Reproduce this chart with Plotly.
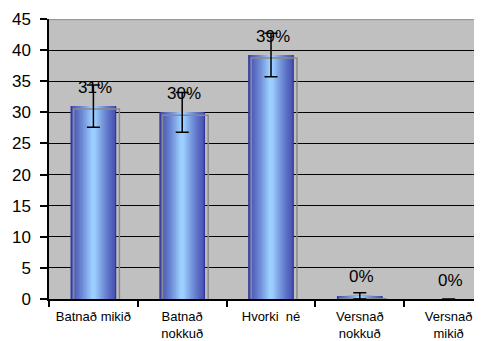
import plotly.graph_objects as go

categories = ["Batnað mikið", "Batnað nokkuð", "Hvorki  né", "Versnað nokkuð", "Versnað mikið"]
tick_labels = ["Batnað mikið", "Batnað<br>nokkuð", "Hvorki\u00a0\u00a0né", "Versnað<br>nokkuð", "Versnað<br>mikið"]
values = [31.0, 30.0, 39.2, 0.5, 0.0]
errors = [3.4, 3.2, 3.5, 0.5, None]
value_labels = ["31%", "30%", "39%", "0%", "0%"]

FONT = "Liberation Sans, Arial, sans-serif"

fig = go.Figure()

# gradient bars built from overlaid layers
dark = (0x34, 0x36, 0x9E)
mid = (0x4C, 0x58, 0xB6)
light = (0x9C, 0xCE, 0xFF)
N = 16
full_w = 0.515
for i in range(N):
    t = i / (N - 1)
    w = full_w * (1 - 0.9 * t) if i > 0 else full_w
    if i == 0:
        c = dark
    else:
        tt = ((i - 1) / (N - 2)) ** 1.2
        c = tuple(int(mid[k] + (light[k] - mid[k]) * tt) for k in range(3))
    fig.add_trace(go.Bar(
        x=categories, y=values, width=w,
        marker=dict(color="rgb(%d,%d,%d)" % c, line=dict(width=0)),
        hoverinfo="skip", showlegend=False,
    ))

# gray shadow outline, shifted right and down
fig.add_trace(go.Bar(
    x=categories, y=values, base=-0.45, width=full_w, offset=-full_w / 2 + 0.035,
    marker=dict(color="rgba(0,0,0,0)", line=dict(color="#8a8a8a", width=1.5)),
    hoverinfo="skip", showlegend=False,
))

# error bars on top
fig.add_trace(go.Bar(
    x=categories, y=values, width=full_w,
    marker=dict(color="rgba(0,0,0,0)", line=dict(width=0)),
    error_y=dict(type="data", array=errors, visible=True, color="black", thickness=1.5, width=6.5),
    showlegend=False,
))

for c, v, lab in zip(categories, values, value_labels):
    fig.add_annotation(x=c, y=v, text=lab, showarrow=False, yshift=19, xshift=2,
                       font=dict(family=FONT, size=17, color="black"))

fig.add_shape(type="line", xref="paper", yref="y", x0=0, x1=1, y0=45, y1=45,
              line=dict(color="#999999", width=2.5))

# page body has an 8px margin, so the figure is drawn 8px smaller
fig.update_layout(
    width=474, height=333,
    margin=dict(l=41, r=0, t=11, b=42),
    barmode="overlay",
    paper_bgcolor="white",
    plot_bgcolor="#C0C0C0",
    font=dict(family=FONT, color="black"),
    xaxis=dict(
        type="category", categoryorder="array", categoryarray=categories,
        tickvals=categories, ticktext=tick_labels,
        range=[-0.5, 4.376], automargin=False,
        tickson="boundaries", ticks="outside", ticklen=6, tickwidth=1.5, tickcolor="black",
        showline=True, linecolor="black", linewidth=1.5,
        showgrid=False, tickfont=dict(size=13, family=FONT, color="black"),
        ticklabelstandoff=5,
    ),
    yaxis=dict(
        range=[0, 45], dtick=5, tick0=0, automargin=False,
        showgrid=True, gridcolor="black", gridwidth=1.3,
        zeroline=False,
        ticks="outside", ticklen=7, tickwidth=1.5, tickcolor="black",
        showline=True, linecolor="black", linewidth=1.5,
        tickfont=dict(size=17, family=FONT, color="black"),
        ticklabelstandoff=6,
    ),
)

fig.write_html("out.html")
